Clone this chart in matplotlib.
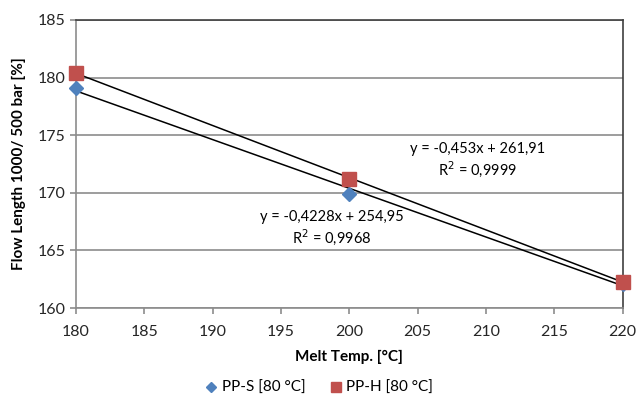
import numpy as np
import matplotlib.pyplot as plt

plt.rcParams['font.family'] = ['Lato', 'DejaVu Sans']

# data
temp = [180, 200, 220]
pp_s = [179.1, 169.9, 162.1]
pp_h = [180.4, 171.2, 162.3]
slopes = [-0.4228, -0.453]
intercepts = [254.95, 261.91]
r2 = ['0,9968', '0,9999']

fig = plt.figure(figsize=(6.38, 3.99), dpi=100)
ax = fig.add_axes([0.119, 0.228, 0.857, 0.722])

grid_col = '#8c8c8c'
ax.set_xlim(180, 220)
ax.set_ylim(160, 185)
ax.set_xticks(np.arange(180, 221, 5))
ax.set_yticks(np.arange(160, 186, 5))
ax.yaxis.grid(True, color=grid_col, linewidth=1.2)
ax.set_axisbelow(True)

# trend lines from the printed equations
xs = np.array([180, 220])
for m, b in zip(slopes, intercepts):
    ax.plot(xs, m * xs + b, color='black', linewidth=1.1, zorder=3)

ax.plot(temp, pp_s, linestyle='none', marker='D', markersize=7.5,
        color='#4F81BD', label='PP-S [80 °C]', zorder=4, clip_on=False)
ax.plot(temp, pp_h, linestyle='none', marker='s', markersize=10,
        color='#C0504D', label='PP-H [80 °C]', zorder=5, clip_on=False)

# equation labels
ax.text(209.4, 172.8, 'y = -0,453x + 261,91\nR$^2$ = 0,9999', ha='center', va='center',
        fontsize=10.5, linespacing=1.25)
ax.text(198.7, 166.9, 'y = -0,4228x + 254,95\nR$^2$ = 0,9968', ha='center', va='center',
        fontsize=10.5, linespacing=1.25)

for side in ['left', 'bottom']:
    ax.spines[side].set_color(grid_col)
    ax.spines[side].set_linewidth(1.2)
for side in ['top', 'right']:
    ax.spines[side].set_color('#404040')
    ax.spines[side].set_linewidth(1.2)

ax.tick_params(axis='both', colors=grid_col, labelcolor='#262626', labelsize=11.5,
               length=4, width=1.2)
ax.tick_params(axis='x', pad=8)

ax.set_xlabel('Melt Temp. [°C]', fontsize=11, fontweight='bold', labelpad=8)
ax.set_ylabel('Flow Length 1000/ 500 bar [%]', fontsize=11, fontweight='bold', labelpad=8)

fig.legend(loc='lower center', bbox_to_anchor=(0.5, -0.025), ncol=2, frameon=False,
           fontsize=11, handlelength=0.8, handletextpad=0.3, columnspacing=1.6,
           markerscale=0.7)

plt.savefig('out.png', dpi=100)
